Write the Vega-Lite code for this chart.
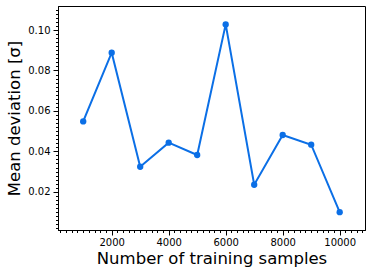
{
  "$schema": "https://vega.github.io/schema/vega-lite/v6.json",
  "width": 307,
  "height": 224,
  "autosize": "none",
  "padding": {"left": 58, "top": 6, "right": 7, "bottom": 46},
  "background": "white",
  "config": {
    "view": {"stroke": "#000000", "strokeWidth": 1},
    "axis": {
      "grid": false,
      "domainColor": "#000000",
      "tickColor": "#000000",
      "labelFont": "DejaVu Sans",
      "titleFont": "DejaVu Sans",
      "labelFontSize": 10,
      "labelColor": "#000000",
      "titleColor": "#000000",
      "titleFontSize": 16.5,
      "titleFontWeight": "normal"
    }
  },
  "data": {
    "values": [
      {"n": 1000, "dev": 0.0548},
      {"n": 2000, "dev": 0.0888},
      {"n": 3000, "dev": 0.0324},
      {"n": 4000, "dev": 0.0443},
      {"n": 5000, "dev": 0.0382},
      {"n": 6000, "dev": 0.1028},
      {"n": 7000, "dev": 0.0235},
      {"n": 8000, "dev": 0.0481},
      {"n": 9000, "dev": 0.0433},
      {"n": 10000, "dev": 0.0099}
    ]
  },
  "layer": [
    {
      "mark": {"type": "point", "opacity": 0},
      "encoding": {
        "x": {
          "field": "n", "type": "quantitative",
          "scale": {"domain": [116, 10888], "nice": false, "zero": false},
          "axis": {
            "orient": "bottom", "title": null, "labels": false, "tickSize": 2.5,
            "values": [200,400,600,800,1000,1200,1400,1600,1800,2200,2400,2600,2800,3000,3200,3400,3600,3800,4200,4400,4600,4800,5000,5200,5400,5600,5800,6200,6400,6600,6800,7000,7200,7400,7600,7800,8200,8400,8600,8800,9000,9200,9400,9600,9800,10200,10400,10600,10800]
          }
        },
        "y": {
          "field": "dev", "type": "quantitative",
          "scale": {"domain": [0.0011, 0.1119], "nice": false, "zero": false},
          "axis": {
            "orient": "left", "title": null, "labels": false, "tickSize": 2.5,
            "values": [0.002,0.004,0.006,0.008,0.010,0.012,0.014,0.016,0.018,0.022,0.024,0.026,0.028,0.030,0.032,0.034,0.036,0.038,0.042,0.044,0.046,0.048,0.050,0.052,0.054,0.056,0.058,0.062,0.064,0.066,0.068,0.070,0.072,0.074,0.076,0.078,0.082,0.084,0.086,0.088,0.090,0.092,0.094,0.096,0.098,0.102,0.104,0.106,0.108,0.110]
          }
        }
      }
    },
    {
      "mark": {"type": "line", "color": "#0b6fe6", "strokeWidth": 2},
      "encoding": {
        "x": {
          "field": "n", "type": "quantitative",
          "scale": {"domain": [116, 10888], "nice": false, "zero": false},
          "axis": {
            "orient": "bottom", "title": "Number of training samples",
            "values": [2000, 4000, 6000, 8000, 10000], "format": "d",
            "tickSize": 5, "labelPadding": 2, "titlePadding": 3
          }
        },
        "y": {
          "field": "dev", "type": "quantitative",
          "scale": {"domain": [0.0011, 0.1119], "nice": false, "zero": false},
          "axis": {
            "orient": "left", "title": "Mean deviation [σ]",
            "values": [0.02, 0.04, 0.06, 0.08, 0.10], "format": ".2f",
            "tickSize": 5, "labelPadding": 3, "titlePadding": 5
          }
        }
      }
    },
    {
      "mark": {"type": "point", "filled": true, "color": "#0b6fe6", "size": 40, "opacity": 1},
      "encoding": {
        "x": {"field": "n", "type": "quantitative", "axis": null},
        "y": {"field": "dev", "type": "quantitative", "axis": null}
      }
    }
  ],
  "resolve": {"axis": {"x": "independent", "y": "independent"}}
}
